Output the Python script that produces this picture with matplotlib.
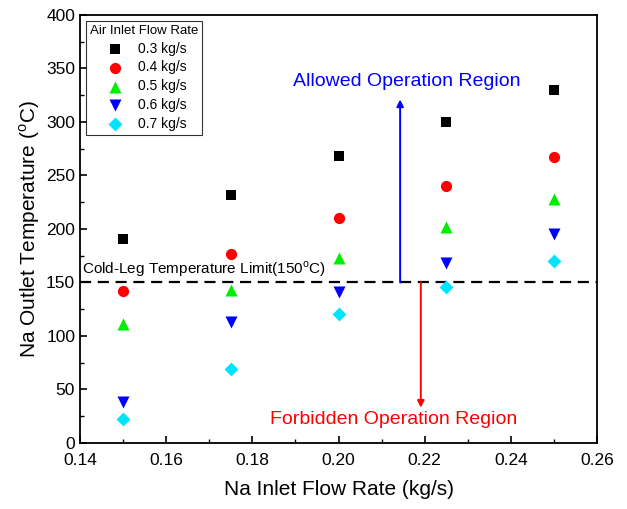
import matplotlib
matplotlib.use("Agg")
import matplotlib.pyplot as plt
from matplotlib.ticker import MultipleLocator, FormatStrFormatter

plt.rcParams["font.family"] = ["Liberation Sans", "DejaVu Sans"]

na_flow = [0.15, 0.175, 0.20, 0.225, 0.25]
air_labels = ["0.3 kg/s", "0.4 kg/s", "0.5 kg/s", "0.6 kg/s", "0.7 kg/s"]
t_03 = [191, 232, 268, 300, 330]
t_04 = [142, 177, 210, 240, 267]
t_05 = [111, 143, 173, 202, 228]
t_06 = [38, 113, 141, 168, 195]
t_07 = [22, 69, 121, 146, 170]
limit = 150

series = [t_03, t_04, t_05, t_06, t_07]
markers = ["s", "o", "^", "v", "D"]
colors = ["#000000", "#ff0000", "#00ee00", "#0000ff", "#00e5ff"]
sizes = [50, 65, 75, 75, 50]

fig = plt.figure(figsize=(6.27, 5.09), dpi=100)
ax = fig.add_axes([0.1276, 0.1297, 0.8246, 0.8409])

for vals, m, c, s, lab in zip(series, markers, colors, sizes, air_labels):
    ax.scatter(na_flow, vals, marker=m, c=c, s=s, linewidths=0, label=lab, zorder=3)

ax.axhline(limit, color="black", linestyle=(0, (5, 3)), linewidth=1.6, zorder=2)
ax.text(0.1405, limit + 3, "Cold-Leg Temperature Limit(150$^\\mathregular{o}$C)",
        fontsize=11, va="bottom", ha="left")

ax.annotate("", xy=(0.2143, 321), xytext=(0.2143, limit),
            arrowprops=dict(arrowstyle="-|>", color="#0000ff", lw=1.4,
                            mutation_scale=10, shrinkA=0, shrinkB=0))
ax.annotate("", xy=(0.2191, 33), xytext=(0.2191, limit),
            arrowprops=dict(arrowstyle="-|>", color="#ff0000", lw=1.4,
                            mutation_scale=10, shrinkA=0, shrinkB=0))
ax.text(0.2159, 338, "Allowed Operation Region", color="#0000ff",
        fontsize=14, ha="center", va="center")
ax.text(0.2127, 22, "Forbidden Operation Region", color="#ff0000",
        fontsize=14, ha="center", va="center")

ax.set_xlim(0.14, 0.26)
ax.set_ylim(0, 400)
ax.xaxis.set_major_locator(MultipleLocator(0.02))
ax.xaxis.set_minor_locator(MultipleLocator(0.01))
ax.yaxis.set_major_locator(MultipleLocator(50))
ax.yaxis.set_minor_locator(MultipleLocator(25))
ax.xaxis.set_major_formatter(FormatStrFormatter("%.2f"))
ax.tick_params(which="both", direction="in", top=False, right=False, labelsize=12.5)
ax.tick_params(which="major", length=5, width=1.2)
ax.tick_params(which="minor", length=3, width=1.0)
ax.tick_params(axis="x", which="major", pad=7)
for sp in ax.spines.values():
    sp.set_linewidth(1.3)

ax.set_xlabel("Na Inlet Flow Rate (kg/s)", fontsize=15, labelpad=9)
ax.set_ylabel("Na Outlet Temperature ($^\\mathregular{o}$C)", fontsize=15, labelpad=3)

leg = ax.legend(title="Air Inlet Flow Rate", loc="upper left", fontsize=10,
                title_fontsize=9.5, frameon=True, fancybox=False, edgecolor="black",
                borderaxespad=0.4, handletextpad=0.7, labelspacing=0.35,
                borderpad=0.3, handlelength=2.0)
leg.get_frame().set_linewidth(0.8)

fig.savefig("out.png", dpi=100)
